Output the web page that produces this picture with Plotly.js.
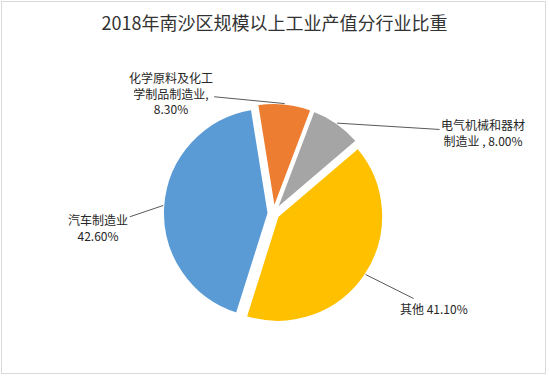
<!DOCTYPE html>
<html>
<head>
<meta charset="utf-8">
<script src="https://cdn.plot.ly/plotly-3.0.1.min.js"></script>
<style>
  html, body { margin: 0; padding: 0; background: #fff; }
  #wrap { position: relative; width: 549px; height: 378px; }
  #chart { position: absolute; left: 0; top: 0; width: 549px; height: 378px; }
  #frame { position: absolute; left: 1px; top: 1px; width: 543px; height: 371px;
           border: 1px solid #d9d9d9; pointer-events: none; }
</style>
</head>
<body>
<div id="wrap"><div id="chart"></div><div id="frame"></div></div>
<script>
// ---- data ----
const categories = ['汽车制造业', '化学原料及化工学制品制造业', '电气机械和器材制造业', '其他'];
const shares = [42.6, 8.3, 8.0, 41.1];           // percent
const labelNames = ['汽车制造业', '化学原料及化工<br>学制品制造业,', '电气机械和器材<br>制造业 ,', '其他'];
const labelSeps = ['<br>', '<br>', ' ', ' '];
const colors = ['#5B9BD5', '#ED7D31', '#A5A5A5', '#FFC000'];
// label text offsets (pixels) from the slice edge point
const labelOffsets = [[-65, 22], [-114, -11], [146, 9], [68, 34]];

const rotation = 197.5;
const pull = 0.047;
const font = '"Noto Sans CJK SC", "Noto Sans", sans-serif';

// anchor points on each slice's outer edge at its mid-angle (paper coords of the pie box)
const total = shares.reduce((a, b) => a + b, 0);
let acc = 0;
const annotations = shares.map((v, i) => {
  const mid = (rotation + (acc + v / 2) / total * 360) * Math.PI / 180;
  acc += v;
  return {
    x: 0.5 + 0.5 * Math.sin(mid), y: 0.5 + 0.5 * Math.cos(mid),
    xref: 'paper', yref: 'paper',
    ax: labelOffsets[i][0], ay: labelOffsets[i][1],
    text: labelNames[i] + labelSeps[i] + shares[i].toFixed(2) + '%',
    showarrow: true, arrowhead: 0, arrowwidth: 1, arrowcolor: '#595959', standoff: 0,
    align: 'center',
    font: { family: font, size: 12, color: '#262626' }
  };
});

const trace = {
  type: 'pie',
  labels: categories,
  values: shares,
  sort: false,
  direction: 'clockwise',
  rotation: rotation,
  pull: pull,
  textinfo: 'none',
  hoverinfo: 'label+percent',
  marker: { colors: colors, line: { color: '#ffffff', width: 2 } },
  showlegend: false
};

const layout = {
  width: 549, height: 378,
  margin: { l: 163, r: 165, t: 103, b: 54, autoexpand: false },
  paper_bgcolor: '#ffffff',
  title: {
    text: '2018年南沙区规模以上工业产值分行业比重',
    font: { family: font, size: 18, color: '#333333' },
    x: 0.5, xanchor: 'center', y: 1 - 23.5 / 378, yanchor: 'middle'
  },
  annotations: annotations,
  showlegend: false
};

Plotly.newPlot('chart', [trace], layout, { displayModeBar: false, staticPlot: true });
</script>
</body>
</html>
